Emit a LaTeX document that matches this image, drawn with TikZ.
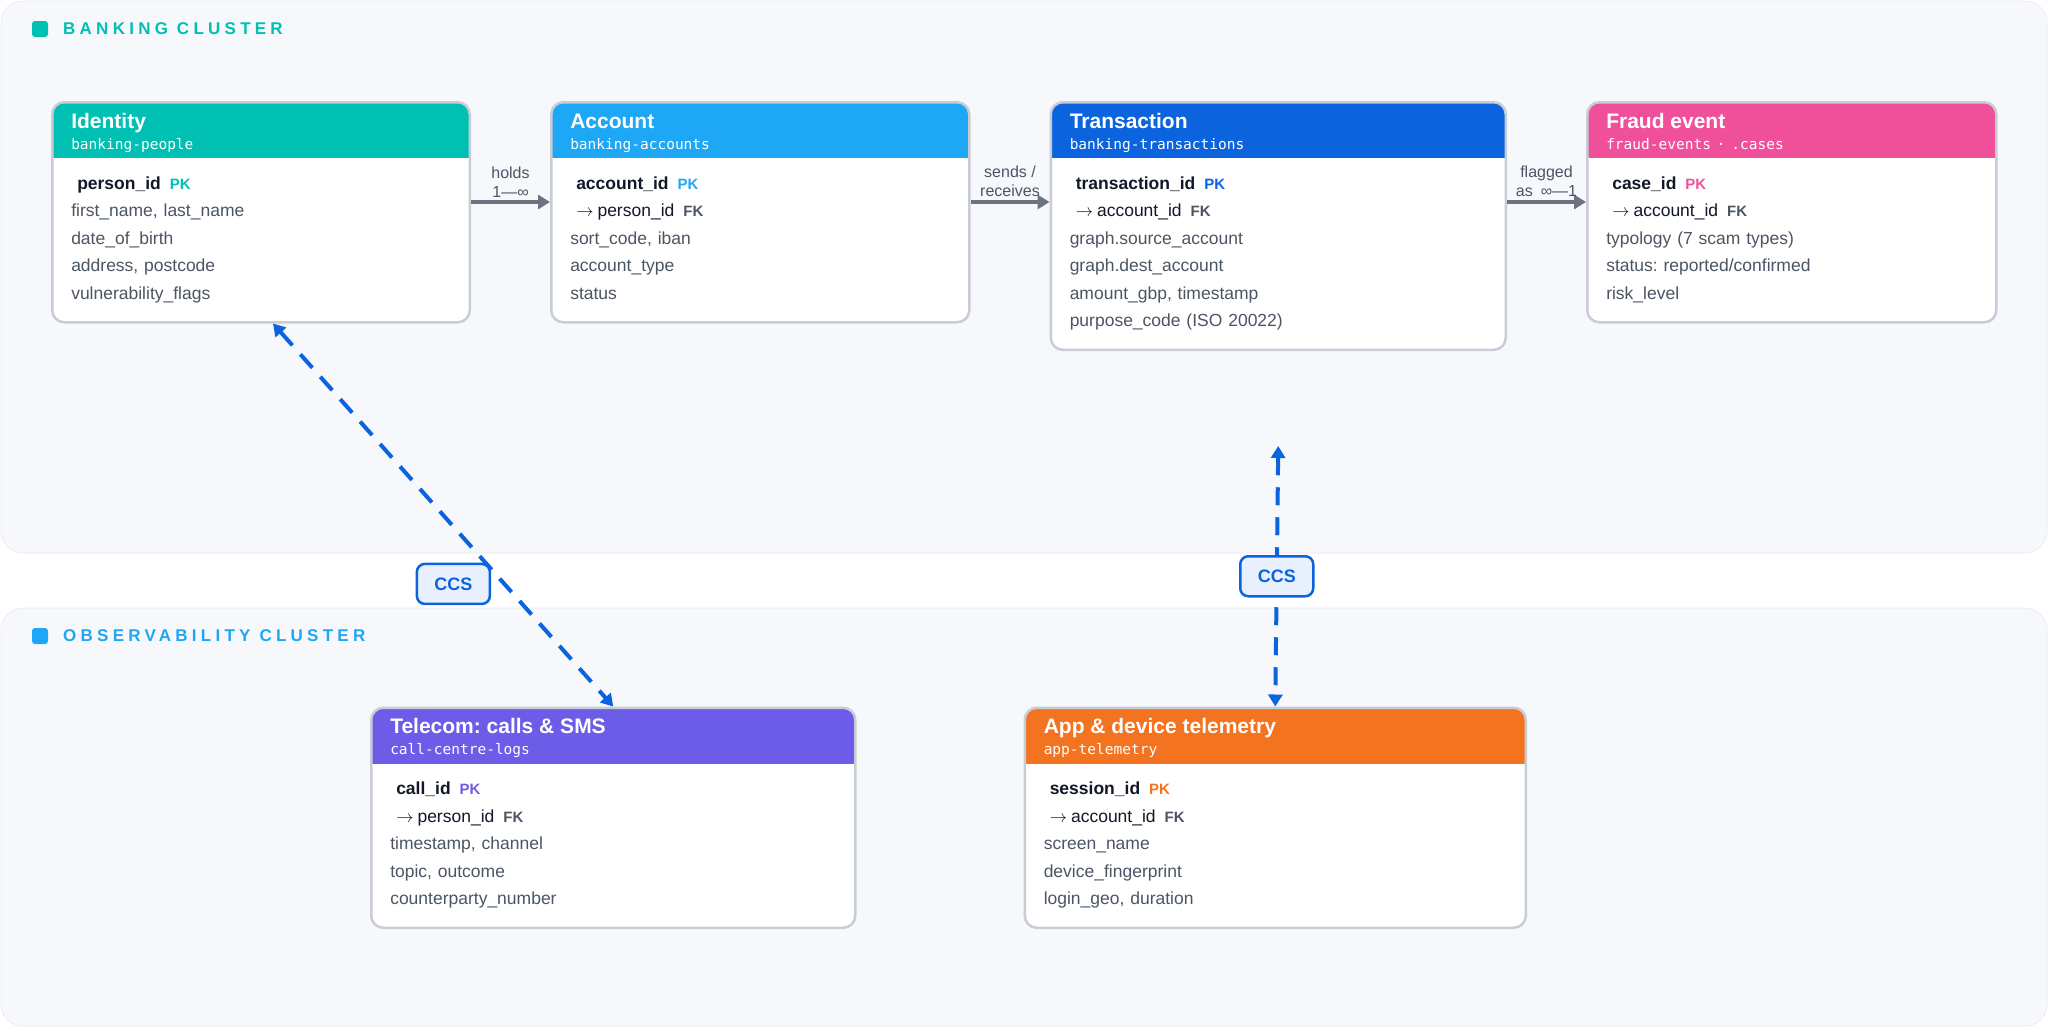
\documentclass[tikz,border=0pt]{standalone}
\usepackage{fontspec}
\setmainfont{Liberation Sans}
\setmonofont{DejaVu Sans Mono}
\newfontfamily\clusterfont[LetterSpace=25]{Liberation Sans}
\usetikzlibrary{positioning, arrows.meta}

\definecolor{idteal}{HTML}{00BFB3}
\definecolor{accblue}{HTML}{1EA7F4}
\definecolor{txnblue}{HTML}{0B63DE}
\definecolor{fraudpink}{HTML}{F0509A}
\definecolor{telpurple}{HTML}{6C5CE7}
\definecolor{apporange}{HTML}{F47320}
\definecolor{ccsfill}{HTML}{E8F0FD}
\definecolor{edgegray}{HTML}{C8CDD5}
\definecolor{relgray}{HTML}{6B7280}
\definecolor{fieldgray}{HTML}{4B5563}
\definecolor{ink}{HTML}{111827}
\definecolor{panel}{HTML}{F6F8FC}
\definecolor{panelline}{HTML}{ECEFF4}

\newcommand{\hdr}[2]{\rule{0pt}{26pt}{\color{white}\fontsize{21}{24}\selectfont\bfseries #1}\\[-6.5pt]%
  {\color{white}\fontsize{14.5}{16}\ttfamily #2}\\[12.5pt]}
\newcommand{\pk}[2]{\hspace*{6pt}{\color{ink}\bfseries #1}\hspace{9pt}{\color{#2}\fontsize{15}{15}\selectfont\bfseries PK}}
\newcommand{\fk}[1]{\hspace*{6pt}{\color{ink}$\rightarrow$\hspace{4pt}#1}\hspace{9pt}{\fontsize{15}{15}\selectfont\bfseries FK}}
\newcommand{\boxend}{\rule[-23pt]{0pt}{23pt}}

\begin{document}
\frenchspacing
\begin{tikzpicture}[x=1pt, y=-1pt, >={Triangle[length=12pt,width=14pt]},
    entity/.style={draw=edgegray, line width=2.5pt, fill=white, rounded corners=12pt,
      anchor=north west, inner xsep=19pt, inner ysep=0pt, align=left, text=fieldgray,
      font=\fontsize{17.5}{27.5}\selectfont,
      path picture={\fill[#1, sharp corners] (path picture bounding box.north west) rectangle
        ([yshift=-56pt]path picture bounding box.north east);}},
    rel/.style={draw=relgray, line width=4pt, ->},
    rellabel/.style={midway, above=3pt, align=center, inner sep=0pt, text=fieldgray,
      font=\fontsize{16}{19}\selectfont},
    link/.style={draw=txnblue, line width=4pt, dash pattern=on 18pt off 12pt, <->},
    cluster/.style={fill=panel, draw=panelline, line width=1pt, rounded corners=22pt},
    cluster title/.style={anchor=west, inner sep=0pt,
      font=\clusterfont\fontsize{17}{17}\selectfont\bfseries}]
    \tikzstyle{ccs}=[solid, draw=txnblue, line width=2.5pt, fill=ccsfill, rounded corners=8pt,
      minimum width=73pt, minimum height=40pt, text=txnblue, font=\fontsize{18}{18}\selectfont\bfseries]

    \useasboundingbox (0,0) rectangle (2048,1028);
    \path[cluster] (1,1) rectangle (2047,553);
    \path[cluster] (1,608) rectangle (2047,1026);

    \fill[idteal, rounded corners=3pt] (32,21) rectangle (48,37);
    \node[cluster title, text=idteal] (banktitle) at (63,29) {BANKING CLUSTER};
    \fill[accblue, rounded corners=3pt] (32,628) rectangle (48,644);
    \node[cluster title, text=accblue] (obstitle) at (63,636) {OBSERVABILITY CLUSTER};

    \node[entity=idteal, text width=379.5pt] (identity) at (51,101) {%
      \hdr{Identity}{banking-people}%
      \pk{person\_id}{idteal}\\
      first\_name, last\_name\\
      date\_of\_birth\\
      address, postcode\\
      vulnerability\_flags\boxend};
    \node[entity=accblue, text width=380pt, right=79pt of identity.north east, anchor=north west] (account) {%
      \hdr{Account}{banking-accounts}%
      \pk{account\_id}{accblue}\\
      \fk{person\_id}\\
      sort\_code, iban\\
      account\_type\\
      status\boxend};
    \node[entity=txnblue, text width=417pt, right=79pt of account.north east, anchor=north west] (transaction) {%
      \hdr{Transaction}{banking-transactions}%
      \pk{transaction\_id}{txnblue}\\
      \fk{account\_id}\\
      graph.source\_account\\
      graph.dest\_account\\
      amount\_gbp, timestamp\\
      purpose\_code (ISO 20022)\boxend};
    \node[entity=fraudpink, text width=371pt, right=79pt of transaction.north east, anchor=north west] (fraud) {%
      \hdr{Fraud event}{fraud-events · .cases}%
      \pk{case\_id}{fraudpink}\\
      \fk{account\_id}\\
      typology (7 scam types)\\
      status: reported/confirmed\\
      risk\_level\boxend};

    \node[entity=telpurple, text width=446pt] (telecom) at (370,706.5) {%
      \hdr{Telecom: calls \& SMS}{call-centre-logs}%
      \pk{call\_id}{telpurple}\\
      \fk{person\_id}\\
      timestamp, channel\\
      topic, outcome\\
      counterparty\_number\boxend};
    \node[entity=apporange, text width=463pt, right=167pt of telecom.north east, anchor=north west] (app) {%
      \hdr{App \& device telemetry}{app-telemetry}%
      \pk{session\_id}{apporange}\\
      \fk{account\_id}\\
      screen\_name\\
      device\_fingerprint\\
      login\_geo, duration\boxend};

    \path
    ([yshift=-101pt]identity.north east) edge[rel] node[rellabel] {holds\\1—∞} ([yshift=-101pt]account.north west)
    ([yshift=-101pt]account.north east) edge[rel] node[rellabel] {sends /\\receives} ([yshift=-101pt]transaction.north west)
    ([yshift=-101pt]transaction.north east) edge[rel] node[rellabel] {flagged\\as\enspace{}∞—1} ([yshift=-101pt]fraud.north west);

    \coordinate (txnstub) at ([yshift=-95pt]transaction.south);
    \draw[link] ([xshift=12pt]identity.south) -- node[ccs, pos=0.68, xshift=-51pt] (ccsleft) {CCS} (telecom.north);
    \draw[link] (txnstub) -- node[ccs] (ccsright) {CCS} (app.north);
\end{tikzpicture}
\end{document}
